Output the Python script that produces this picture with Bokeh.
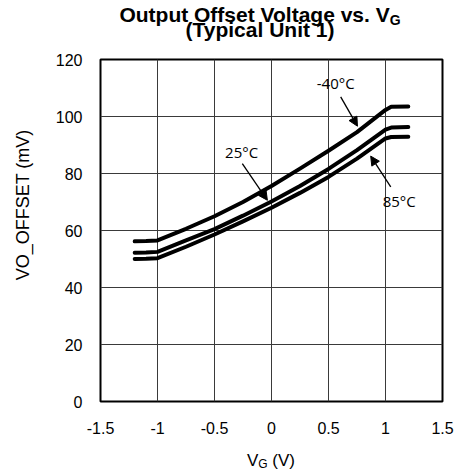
from bokeh.plotting import figure
from bokeh.models import Label, Arrow, NormalHead, FixedTicker, Div
from bokeh.layouts import column, row
from bokeh.embed import file_html
from bokeh.resources import INLINE

# Data
vg = [-1.2, -1.1, -1.0, -0.75, -0.5, -0.25, 0.0, 0.25, 0.5, 0.75, 1.0, 1.05, 1.2]
vo_m40 = [56.2, 56.3, 56.5, 60.6, 65.0, 70.0, 75.6, 81.7, 88.0, 94.5, 102.3, 103.4, 103.5]
vo_25 = [52.2, 52.3, 52.5, 56.5, 60.5, 65.2, 70.2, 75.6, 81.6, 88.2, 95.4, 96.1, 96.3]
vo_85 = [50.0, 50.1, 50.3, 54.3, 58.6, 63.2, 68.0, 73.2, 78.8, 85.2, 92.3, 92.8, 92.9]

x_ticks = [-1.5, -1.0, -0.5, 0.0, 0.5, 1.0, 1.5]
x_tick_labels = ["-1.5", "-1", "-0.5", "0", "0.5", "1", "1.5"]
y_ticks = [0, 20, 40, 60, 80, 100, 120]

curve_labels = ["-40°C", "25°C", "85°C"]
title_line1 = "Output Offset Voltage vs. V"
title_sub = "G"
title_line2 = "(Typical Unit 1)"
x_label_main, x_label_sub, x_label_unit = "V", "G", "(V)"
y_label = "VO_OFFSET (mV)"

FONT = "Liberation Sans"
LFONT = "Open Sans"

p = figure(width=407, height=398, output_backend="svg", toolbar_location=None,
           x_range=(-1.5, 1.5), y_range=(0, 120), margin=(0, 0, 0, 0),
           min_border_left=52, min_border_right=13, min_border_top=11, min_border_bottom=45)

p.outline_line_color = "black"
p.outline_line_width = 2
p.background_fill_color = "white"
p.border_fill_color = "white"

for ax in (p.xaxis[0], p.yaxis[0]):
    ax.axis_line_color = None
    ax.major_tick_line_color = None
    ax.minor_tick_line_color = None
    ax.major_tick_out = 0
    ax.major_tick_in = 0
    ax.major_label_text_font = FONT
    ax.major_label_text_font_size = "16px"
    ax.major_label_text_color = "black"

p.xaxis.ticker = FixedTicker(ticks=x_ticks)
p.xaxis.major_label_overrides = {t: l for t, l in zip(x_ticks, x_tick_labels)}
p.xaxis.major_label_standoff = 20
p.yaxis.ticker = FixedTicker(ticks=y_ticks)
p.yaxis.major_label_standoff = 18

p.xgrid.grid_line_color = "#3a3a3a"
p.ygrid.grid_line_color = "#3a3a3a"
p.xgrid.grid_line_width = 1
p.ygrid.grid_line_width = 1

for ys in (vo_m40, vo_25, vo_85):
    p.line(vg, ys, line_color="black", line_width=4, line_cap="round", line_join="round")

# Curve labels and arrows
for (x, y), t in zip([(0.563, 111.6), (-0.262, 87.6), (1.12, 70.4)], curve_labels):
    p.add_layout(Label(x=x, y=y, text=t, text_font=LFONT, text_font_size="15px",
                       text_align="center", text_baseline="middle", text_color="black"))

for (x0, y0, x1, y1) in [(0.607, 106.9, 0.754, 96.6),
                         (-0.256, 83.5, -0.036, 70.6),
                         (1.046, 75.3, 0.870, 86.1)]:
    p.add_layout(Arrow(end=NormalHead(size=9, fill_color="black", line_color="black"),
                       x_start=x0, y_start=y0, x_end=x1, y_end=y1,
                       line_color="black", line_width=1.3))

# Title (two lines, with subscript)
ff = "font-family:'Liberation Sans',Arial,sans-serif;color:black;white-space:nowrap;"
title_html = (
    f'<div style="position:relative;width:455px;height:48px;{ff}">'
    f'<div style="position:absolute;left:260px;top:4px;transform:translateX(-50%);'
    f'font-size:21px;font-weight:bold;line-height:1;">{title_line1}'
    f'<span style="font-size:14px;position:relative;top:3px;">{title_sub}</span></div>'
    f'<div style="position:absolute;left:260px;top:19px;transform:translateX(-50%);'
    f'font-size:21px;font-weight:bold;line-height:1;">{title_line2}</div>'
    f'</div>'
)
title_div = Div(text=title_html, width=455, height=48, margin=(0, 0, 0, 0))

# Y axis label (rotated)
ylab_html = (
    f'<div style="position:relative;width:48px;height:398px;{ff}">'
    f'<div style="position:absolute;left:23px;top:157px;'
    f'transform:translate(-50%,-50%) rotate(-90deg);font-size:18px;line-height:1;">'
    f'{y_label}</div></div>'
)
ylab_div = Div(text=ylab_html, width=48, height=398, margin=(0, 0, 0, 0))

# X axis label with subscript
xlab_html = (
    f'<div style="position:relative;width:455px;height:26px;{ff}">'
    f'<div style="position:absolute;left:271px;top:6px;transform:translateX(-50%);'
    f'font-size:17px;line-height:1;">{x_label_main}'
    f'<span style="font-size:12px;position:relative;top:2px;line-height:1;">{x_label_sub}</span>'
    f' {x_label_unit}</div></div>'
)
xlab_div = Div(text=xlab_html, width=455, height=26, margin=(0, 0, 0, 0))

layout = column(title_div, row(ylab_div, p, spacing=0), xlab_div, spacing=0)

open("out.html", "w").write(file_html(layout, INLINE))
